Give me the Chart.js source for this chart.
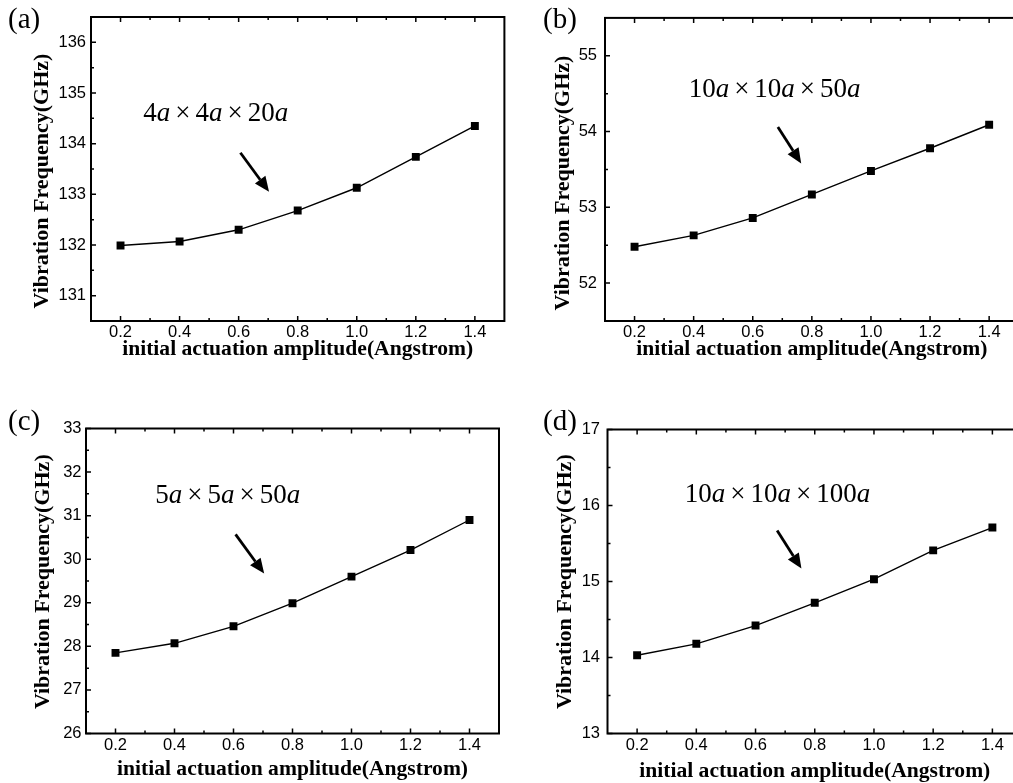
<!DOCTYPE html>
<html>
<head>
<meta charset="utf-8">
<script src="https://cdn.jsdelivr.net/npm/chart.js@4.4.1/dist/chart.umd.min.js"></script>
<style>
html,body{margin:0;padding:0;background:#fff}
body{width:1013px;height:783px;overflow:hidden;position:relative}
canvas{position:absolute}
</style>
</head>
<body>
<canvas id="c0"></canvas>
<canvas id="c1"></canvas>
<canvas id="c2"></canvas>
<canvas id="c3"></canvas>
<script>
// datos
const amplitud = [0.2, 0.4, 0.6, 0.8, 1.0, 1.2, 1.4]
const freqA = [131.99, 132.07, 132.30, 132.68, 133.13, 133.74, 134.35]
const freqB = [52.48, 52.63, 52.86, 53.17, 53.48, 53.78, 54.09]
const freqC = [27.85, 28.07, 28.46, 28.99, 29.60, 30.21, 30.90]
const freqD = [14.03, 14.18, 14.42, 14.72, 15.03, 15.41, 15.71]
const xTicks = [0.2, 0.4, 0.6, 0.8, 1.0, 1.2, 1.4]
const yTicksA = [131, 132, 133, 134, 135, 136]
const yTicksB = [52, 53, 54, 55]
const yTicksC = [26, 27, 28, 29, 30, 31, 32, 33]
const yTicksD = [13, 14, 15, 16, 17]
const etiquetas = ['(a)', '(b)', '(c)', '(d)']
const medidas = ['4a×4a×20a', '10a×10a×50a', '5a×5a×50a', '10a×10a×100a']
const tituloY = 'Vibration Frequency(GHz)'
const tituloX = 'initial actuation amplitude(Angstrom)'

// caja de cada panel en pixeles de pagina, texto y flecha en unidades de datos
let paneles = [
    {left:0, top:0, w:510, h:392, area:[91,17,504.5,321], datos:freqA, yTicks:yTicksA, yMin:130.5, yMax:136.5,
     pad:5, etq:[8,28], ty:[42.7,181], tx:355, texto:[0.277,134.45], flecha:[0.606,133.82,0.703,133.05]},
    {left:510, top:0, w:520, h:392, area:[605,17,1018.7,321], datos:freqB, yTicks:yTicksB, yMin:51.5, yMax:55.5,
     pad:8, etq:[543,28], ty:[563.3,183], tx:355, texto:[0.383,54.46], flecha:[0.685,54.06,0.764,53.58]},
    {left:0, top:392, w:510, h:391, area:[86,428.5,499,733.5], datos:freqC, yTicks:yTicksC, yMin:26, yMax:33,
     pad:4.5, etq:[8,430], ty:[43.3,581.7], tx:775, texto:[0.335,31.29], flecha:[0.607,30.57,0.704,29.67]},
    {left:510, top:392, w:520, h:391, area:[607.5,429.5,1022,733.5], datos:freqD, yTicks:yTicksD, yMin:13, yMax:17,
     pad:7.5, etq:[543,430], ty:[565,581.7], tx:777, texto:[0.361,16.05], flecha:[0.673,15.67,0.755,15.17]}
]

function medios(lista){
    let m = []
    for (let j = 0; j < lista.length - 1; j++)
        m.push((lista[j] + lista[j+1]) / 2)
    return m
}

function dibujarMedidas(ctx, texto, x, y){
    let cx = x
    for (const ch of texto){
        if (ch == 'a')
            ctx.font = 'italic 27px "Liberation Serif"'
        else
            ctx.font = '27px "Liberation Serif"'
        if (ch == '×') cx += 5
        ctx.fillText(ch, cx, y)
        cx += ctx.measureText(ch).width
        if (ch == '×') cx += 5
    }
}

function dibujarFlecha(ctx, x1, y1, x2, y2){
    const ang = Math.atan2(y2 - y1, x2 - x1), L = 15, W = 6.5
    const bx = x2 - L * Math.cos(ang), by = y2 - L * Math.sin(ang)
    ctx.lineWidth = 2.8
    ctx.beginPath()
    ctx.moveTo(x1, y1)
    ctx.lineTo(bx, by)
    ctx.stroke()
    ctx.beginPath()
    ctx.moveTo(x2, y2)
    ctx.lineTo(bx + W * Math.sin(ang), by - W * Math.cos(ang))
    ctx.lineTo(bx - W * Math.sin(ang), by + W * Math.cos(ang))
    ctx.closePath()
    ctx.fill()
}

function extras(p, k){
    return {
        id: 'extras' + k,
        afterDraw(chart){
            const ctx = chart.ctx, a = chart.chartArea
            const sx = chart.scales.x, sy = chart.scales.y
            ctx.save()
            ctx.strokeStyle = '#000'
            ctx.fillStyle = '#000'
            ctx.lineWidth = 2
            ctx.strokeRect(a.left, a.top, a.right - a.left, a.bottom - a.top)

            // ticks hacia dentro
            ctx.lineWidth = 1.5
            ctx.beginPath()
            xTicks.forEach(v => {
                const x = sx.getPixelForValue(v)
                ctx.moveTo(x, a.bottom); ctx.lineTo(x, a.bottom - 5)
                ctx.moveTo(x, a.top); ctx.lineTo(x, a.top + 5)
            })
            medios(xTicks).forEach(v => {
                const x = sx.getPixelForValue(v)
                ctx.moveTo(x, a.bottom); ctx.lineTo(x, a.bottom - 3)
                ctx.moveTo(x, a.top); ctx.lineTo(x, a.top + 3)
            })
            p.yTicks.forEach(v => {
                const y = sy.getPixelForValue(v)
                ctx.moveTo(a.left, y); ctx.lineTo(a.left + 5, y)
            })
            medios(p.yTicks).forEach(v => {
                const y = sy.getPixelForValue(v)
                ctx.moveTo(a.left, y); ctx.lineTo(a.left + 3, y)
            })
            ctx.stroke()

            // titulos
            ctx.textAlign = 'center'
            ctx.textBaseline = 'alphabetic'
            ctx.font = 'bold 21.6px "Liberation Serif"'
            ctx.fillText(tituloX, (a.left + a.right) / 2, p.tx - p.top)
            ctx.save()
            ctx.translate(p.ty[0] - p.left, p.ty[1] - p.top)
            ctx.rotate(-Math.PI / 2)
            ctx.textBaseline = 'middle'
            ctx.font = 'bold 22px "Liberation Serif"'
            ctx.fillText(tituloY, 0, 0)
            ctx.restore()

            ctx.textAlign = 'left'
            ctx.font = '29px "Liberation Serif"'
            ctx.fillText(etiquetas[k], p.etq[0] - p.left, p.etq[1] - p.top)

            dibujarMedidas(ctx, medidas[k], sx.getPixelForValue(p.texto[0]), sy.getPixelForValue(p.texto[1]))
            const f = p.flecha
            dibujarFlecha(ctx, sx.getPixelForValue(f[0]), sy.getPixelForValue(f[1]),
                sx.getPixelForValue(f[2]), sy.getPixelForValue(f[3]))
            ctx.restore()
        }
    }
}

function crearChart(p, k){
    let canvas = document.getElementById('c' + k)
    canvas.width = p.w
    canvas.height = p.h
    canvas.style.left = p.left + 'px'
    canvas.style.top = p.top + 'px'

    const fuenteTicks = {family: 'Liberation Sans', size: 16.5}
    const config = {
        type: 'line',
        data: {
            datasets: [{
                data: amplitud.map((x, j) => ({x: x, y: p.datos[j]})),
                borderColor: '#000',
                borderWidth: 1.4,
                pointStyle: 'rect',
                pointRadius: 5.6,
                pointBackgroundColor: '#000',
                pointBorderWidth: 0,
                tension: 0
            }]
        },
        options: {
            responsive: false,
            animation: false,
            layout: {padding: {left: 0, top: p.area[1] - p.top, right: p.left + p.w - p.area[2], bottom: 0}},
            plugins: {legend: {display: false}, tooltip: {enabled: false}},
            scales: {
                x: {
                    type: 'linear', min: 0.1, max: 1.5,
                    grid: {display: false, drawTicks: false},
                    border: {display: false},
                    ticks: {font: fuenteTicks, color: '#000', padding: 2, maxRotation: 0,
                        callback: v => v.toFixed(1)},
                    afterBuildTicks: s => { s.ticks = xTicks.map(v => ({value: v})) },
                    afterFit: s => { s.height = p.top + p.h - p.area[3] }
                },
                y: {
                    type: 'linear', min: p.yMin, max: p.yMax,
                    grid: {display: false, drawTicks: false},
                    border: {display: false},
                    ticks: {font: fuenteTicks, color: '#000', padding: p.pad, callback: v => '' + v},
                    afterBuildTicks: s => { s.ticks = p.yTicks.map(v => ({value: v})) },
                    afterFit: s => { s.width = p.area[0] - p.left }
                }
            }
        },
        plugins: [extras(p, k)]
    }
    return new Chart(canvas, config)
}

paneles.forEach((p, k) => crearChart(p, k))
</script>
</body>
</html>
